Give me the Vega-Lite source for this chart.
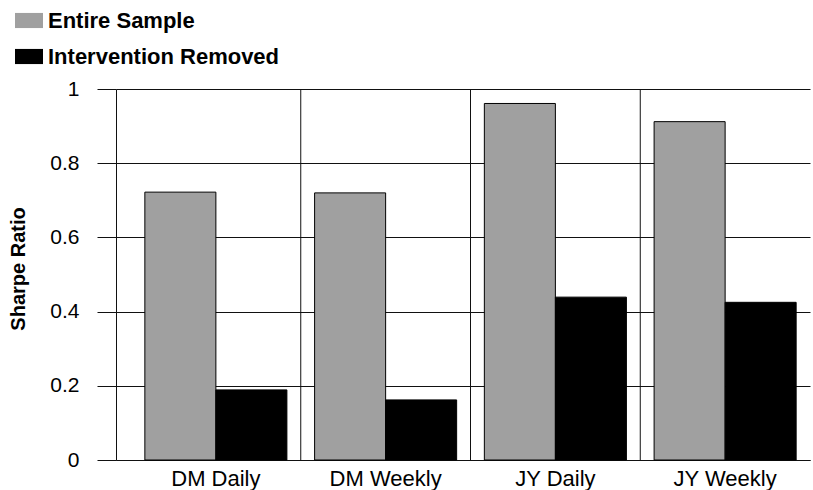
{
  "$schema": "https://vega.github.io/schema/vega-lite/v6.json",
  "width": 694,
  "height": 371,
  "autosize": {"type": "none"},
  "padding": {"left": 116, "top": 89, "right": 3, "bottom": 30},
  "background": "white",
  "config": {"view": {"stroke": null}, "font": "Liberation Sans"},
  "data": {
    "values": [
      {"category": "DM Daily", "series": "Entire Sample", "value": 0.722},
      {"category": "DM Daily", "series": "Intervention Removed", "value": 0.189},
      {"category": "DM Weekly", "series": "Entire Sample", "value": 0.72},
      {"category": "DM Weekly", "series": "Intervention Removed", "value": 0.162},
      {"category": "JY Daily", "series": "Entire Sample", "value": 0.961},
      {"category": "JY Daily", "series": "Intervention Removed", "value": 0.439},
      {"category": "JY Weekly", "series": "Entire Sample", "value": 0.912},
      {"category": "JY Weekly", "series": "Intervention Removed", "value": 0.425}
    ]
  },
  "layer": [
    {
      "mark": {"type": "rule", "color": "#111", "strokeWidth": 1},
      "transform": [{"filter": "datum.series === 'Entire Sample' && datum.category !== 'JY Weekly'"}],
      "encoding": {
        "x": {
          "field": "category", "type": "nominal", "bandPosition": 1,
          "sort": ["DM Daily", "DM Weekly", "JY Daily", "JY Weekly"],
          "axis": {"title": null, "labelAngle": 0, "ticks": false, "grid": false, "domain": true, "domainColor": "#111", "labelFont": "Liberation Sans", "labelFontSize": 22, "labelColor": "black", "labelPadding": 8}
        }
      }
    },
    {
      "mark": {"type": "bar", "stroke": "black", "strokeWidth": 1},
      "encoding": {
        "x": {
          "field": "category", "type": "nominal",
          "sort": ["DM Daily", "DM Weekly", "JY Daily", "JY Weekly"],
          "scale": {"paddingInner": 0, "paddingOuter": 0.0442, "align": 1},
          "axis": {"title": null, "labelAngle": 0, "ticks": false, "grid": false, "domain": true, "domainColor": "#111", "labelFont": "Liberation Sans", "labelFontSize": 22, "labelColor": "black", "labelPadding": 8}
        },
        "xOffset": {
          "field": "series", "type": "nominal",
          "sort": ["Entire Sample", "Intervention Removed"],
          "scale": {"paddingInner": 0, "paddingOuter": 0.195}
        },
        "y": {
          "field": "value", "type": "quantitative",
          "scale": {"domain": [0, 1]},
          "axis": {
            "values": [0, 0.2, 0.4, 0.6, 0.8, 1], "format": "~g",
            "grid": true, "gridColor": "#111", "gridWidth": 1,
            "tickSize": 19, "tickColor": "#111", "domainColor": "#111",
            "labelFont": "Liberation Sans", "labelFontSize": 21, "labelColor": "black", "labelPadding": 18,
            "title": "Sharpe Ratio", "titleFont": "Liberation Sans", "titleFontSize": 20, "titleFontWeight": "bold", "titleColor": "black",
            "titleX": -88, "titleY": 179.5, "titleAngle": -90, "titleBaseline": "bottom", "titleAlign": "center"
          }
        },
        "color": {
          "field": "series", "type": "nominal",
          "scale": {"domain": ["Entire Sample", "Intervention Removed"], "range": ["#a0a0a0", "#000000"]},
          "legend": {
            "orient": "none", "legendX": -101, "legendY": -82.5, "title": null,
            "symbolType": "M-1,-0.54H1V0.54H-1Z", "symbolSize": 784, "symbolStrokeWidth": 0, "symbolOpacity": 1,
            "labelFont": "Liberation Sans", "labelFontSize": 22, "labelFontWeight": "bold", "labelColor": "black",
            "labelOffset": 5, "labelLimit": 0, "rowPadding": 11, "padding": 0
          }
        }
      }
    }
  ]
}
